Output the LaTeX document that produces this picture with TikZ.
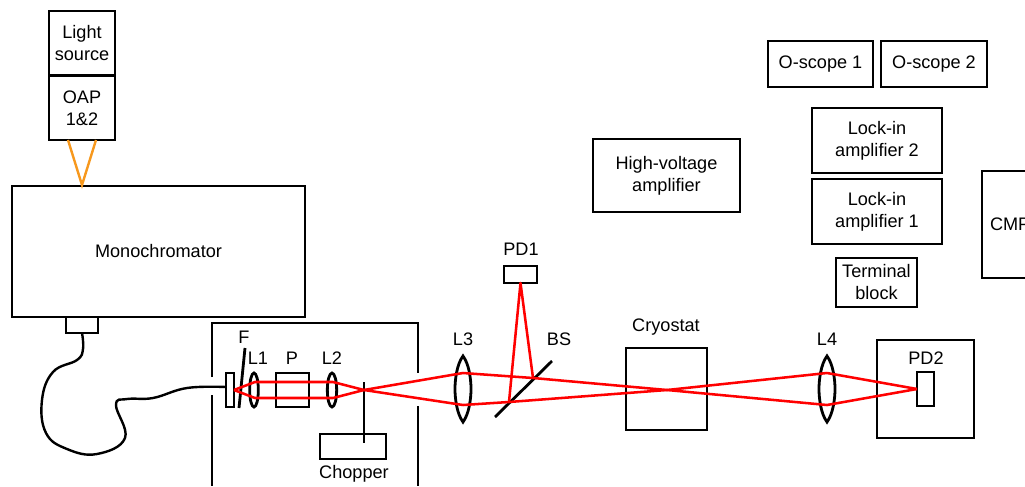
\documentclass[tikz,border=0pt]{standalone}
\usepackage{fontspec}
\setmainfont{Liberation Sans}
\usepackage{xcolor}
\usetikzlibrary{shapes.geometric}
\definecolor{beamred}{RGB}{255,0,0}
\definecolor{lamporange}{RGB}{247,152,29}
\newcommand{\biglens}[2]{\draw[wall, shift={(#1,#2)}] (0,-33) .. controls (-6,-25) and (-8,-10) .. (-8,0) .. controls (-8,10) and (-6,25) .. (0,33) .. controls (6,25) and (8,10) .. (8,0) .. controls (8,-10) and (6,-25) .. (0,-33) -- cycle;}
\tikzset{
  labeltext/.style={font=\fontsize{13.6}{16.5}\selectfont, align=center, inner sep=0pt},
  instrbox/.style={labeltext, draw, line width=2.1pt, inner sep=0pt, outer sep=0pt},
  lens/.style={draw, ellipse, line width=2.1pt, inner sep=0pt, outer sep=0pt},
  beam/.style={beamred, line width=1.9pt, line join=round},
  wall/.style={line width=2.1pt}
}
\begin{document}
\begin{tikzpicture}[x=0.75pt, y=-0.75pt]
      \useasboundingbox (0,0) rectangle (1025,486);
      \clip (0,0) rectangle (1025,486);
      \node[instrbox, minimum width=49.5pt, minimum height=48pt] (source) at (82,43) {Light\\source};
      \node[instrbox, minimum width=49.5pt, minimum height=48pt] (oap) at (82,108) {OAP\\1\&2};
      \node[instrbox, minimum width=219.75pt, minimum height=98.25pt] (mono) at (158.5,251.5) {Monochromator};
      \node[instrbox, minimum width=24pt, minimum height=12pt] (port) at (82,325) {};
      \draw[lamporange, line width=1.8pt] (68,140) -- (82,185) -- (96,140);
      \draw[line width=1.8pt] plot[smooth, tension=0.7] coordinates {(port.south) (83,349) (77,360) (53,372) (42,400) (46,433) (67,449) (97,454) (125,438) (116,405) (127,399) (153,398) (187,388) (226,387)};
      \draw[wall] (212,377) -- (212,323) -- (418,323) -- (418,373);
      \draw[wall] (212,395) -- (212,486);
      \draw[wall] (418,406) -- (418,486);
      \node[instrbox, minimum width=6pt, minimum height=25.5pt] (fibre) at (230,390) {};
      \draw[wall] (245,348) -- (239,408);
      \node[labeltext] (labelF) at (244,337) {F};
      \node[lens, minimum width=6.5pt, minimum height=25.5pt] (lensA) at (254,390) {};
      \node[labeltext] (labelA) at (258,358) {L1};
      \node[instrbox, minimum width=24.75pt, minimum height=25.5pt] (pol) at (292.5,390) {};
      \node[labeltext] (labelP) at (292,358) {P};
      \node[lens, minimum width=7pt, minimum height=25.5pt] (lensB) at (332,390) {};
      \node[labeltext] (labelB) at (332,358) {L2};
      \node[instrbox, minimum width=49.5pt, minimum height=18.75pt] (chopper) at (353,446.5) {};
      \node[labeltext] (labelC) at (354,474) {Chopper};
      \draw[wall] (364,382) -- (364,443);
      \biglens{463}{389}
      \node[labeltext] (labelL) at (463,339) {L3};
      \draw[wall] (495,417) -- (552,361);
      \node[labeltext] (labelBS) at (559,339) {BS};
      \node[instrbox, minimum width=24.75pt, minimum height=12.75pt] (pdA) at (520.5,274.5) {};
      \node[labeltext] (labelPDA) at (521,249) {PD1};
      \node[instrbox, minimum width=60.75pt, minimum height=61.5pt] (cryo) at (666.5,389) {};
      \node[labeltext] (labelCryo) at (666,327) {Cryostat};
      \biglens{827}{389}
      \node[labeltext] (labelD) at (827,339) {L4};
      \node[instrbox, minimum width=72.75pt, minimum height=73.5pt] (pdbox) at (925.5,389) {};
      \node[instrbox, minimum width=12.75pt, minimum height=25.5pt] (pdB) at (925.5,389) {};
      \node[labeltext] (labelPDB) at (926,358) {PD2};
      \node[instrbox, minimum width=110.25pt, minimum height=54.75pt] (hv) at (666.5,175.5) {High-voltage\\amplifier};
      \node[instrbox, minimum width=78.75pt, minimum height=34.5pt] (scopeA) at (820.5,64) {O-scope 1};
      \node[instrbox, minimum width=79.5pt, minimum height=34.5pt] (scopeB) at (934,64) {O-scope 2};
      \node[instrbox, minimum width=97.5pt, minimum height=48.75pt] (lockB) at (877,140.5) {Lock-in\\amplifier 2};
      \node[instrbox, minimum width=97.5pt, minimum height=48.75pt] (lockA) at (877,211.5) {Lock-in\\amplifier 1};
      \node[instrbox, minimum width=60.75pt, minimum height=36.75pt] (terminal) at (876.5,282.5) {Terminal\\block};
      \node[instrbox, minimum width=60pt, minimum height=80.25pt, anchor=west, text width=48pt, align=left] (cmp) at (982,224.5) {CMP};
      \coordinate (crossA) at (364,390);
      \coordinate (crossB) at (667,390);
      \draw[beam] (fibre.east) -- (255,382) -- (333,382) -- (crossA) -- (463,405) -- (509,402) -- (crossB) -- (827,373) -- (pdB.west);
      \draw[beam] (fibre.east) -- (255,398) -- (333,398) -- (crossA) -- (463,373) -- (533,378) -- (crossB) -- (827,405) -- (pdB.west);
      \draw[beam] (509,402) -- (pdA.south) -- (533,378);
\end{tikzpicture}
\end{document}
